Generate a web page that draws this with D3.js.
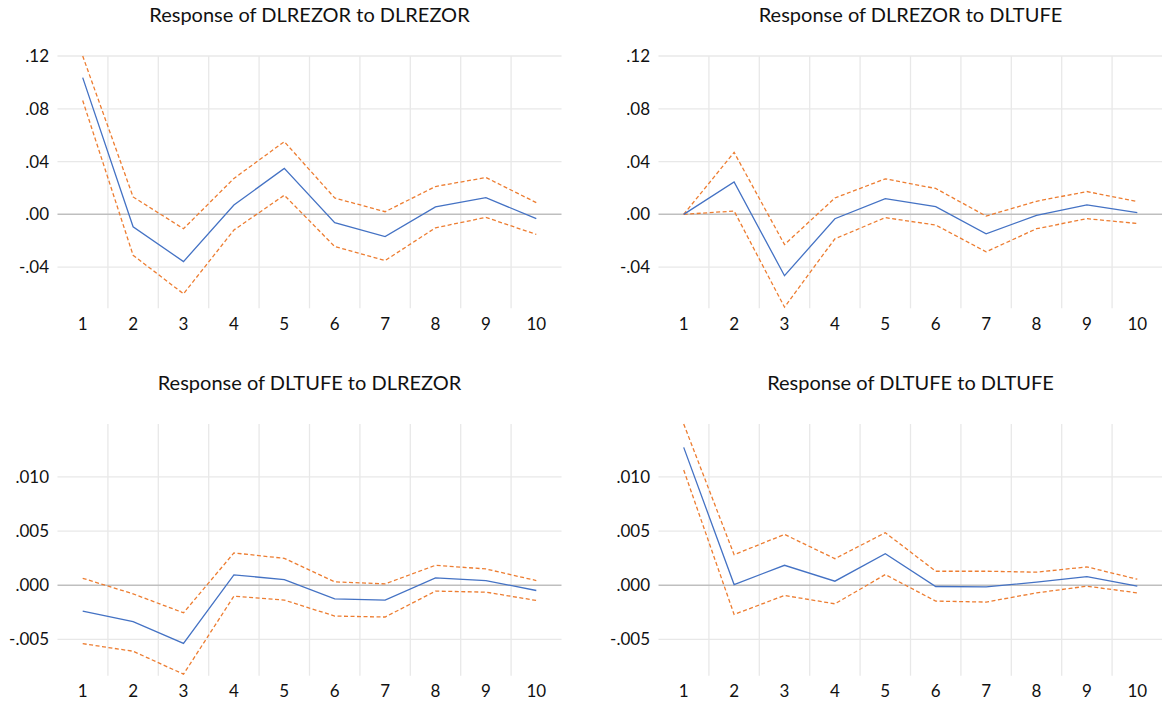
<!DOCTYPE html>
<html>
<head>
<meta charset="utf-8">
<script src="https://cdn.jsdelivr.net/npm/d3@7"></script>
<style>
  body { margin: 0; background: #ffffff; }
  svg { display: block; }
</style>
</head>
<body>
<svg id="chart" width="1162" height="711"></svg>
<script>
// ---------------- data ----------------
const periods = [1, 2, 3, 4, 5, 6, 7, 8, 9, 10];

const titles = [
  "Response of DLREZOR to DLREZOR",
  "Response of DLREZOR to DLTUFE",
  "Response of DLTUFE to DLREZOR",
  "Response of DLTUFE to DLTUFE"
];

// Response of DLREZOR to DLREZOR
const respRezorRezor  = [0.1036, -0.0094, -0.0358, 0.0071, 0.0348, -0.0063, -0.0168, 0.0056, 0.0127, -0.0033];
const upperRezorRezor = [0.1200, 0.0132, -0.0109, 0.0272, 0.0551, 0.0124, 0.0020, 0.0211, 0.0279, 0.0089];
const lowerRezorRezor = [0.0863, -0.0310, -0.0602, -0.0119, 0.0145, -0.0244, -0.0350, -0.0102, -0.0023, -0.0152];

// Response of DLREZOR to DLTUFE
const respRezorTufe  = [0.0000, 0.0246, -0.0465, -0.0033, 0.0119, 0.0058, -0.0147, -0.0008, 0.0071, 0.0013];
const upperRezorTufe = [0.0000, 0.0470, -0.0229, 0.0124, 0.0269, 0.0196, -0.0013, 0.0099, 0.0173, 0.0097];
const lowerRezorTufe = [0.0000, 0.0025, -0.0703, -0.0185, -0.0025, -0.0081, -0.0284, -0.0109, -0.0033, -0.0069];

// Response of DLTUFE to DLREZOR
const respTufeRezor  = [-0.00239, -0.00337, -0.00537, 0.00095, 0.00052, -0.00126, -0.00138, 0.00067, 0.00043, -0.00049];
const upperTufeRezor = [0.00064, -0.00080, -0.00255, 0.00298, 0.00248, 0.00031, 0.00012, 0.00184, 0.00150, 0.00043];
const lowerTufeRezor = [-0.00540, -0.00610, -0.00822, -0.00101, -0.00138, -0.00285, -0.00294, -0.00055, -0.00064, -0.00141];

// Response of DLTUFE to DLTUFE
const respTufeTufe  = [0.01273, 0.00006, 0.00184, 0.00037, 0.00291, -0.00012, -0.00015, 0.00028, 0.00080, -0.00009];
const upperTufeTufe = [0.01489, 0.00282, 0.00469, 0.00245, 0.00485, 0.00129, 0.00129, 0.00120, 0.00169, 0.00055];
const lowerTufeTufe = [0.01064, -0.00270, -0.00095, -0.00172, 0.00098, -0.00147, -0.00156, -0.00071, -0.00009, -0.00071];

// axis ticks
const topTicks = [-0.04, 0.00, 0.04, 0.08, 0.12];
const topTickLabels = ["-.04", ".00", ".04", ".08", ".12"];
const topDomain = [-0.0712, 0.12];

const bottomTicks = [-0.005, 0.000, 0.005, 0.010];
const bottomTickLabels = ["-.005", ".000", ".005", ".010"];
const bottomDomain = [-0.00836, 0.01489];

// ---------------- layout ----------------
const svg = d3.select("#chart");
const FONT = "Lato, 'Open Sans', sans-serif";
const colX = [57.5, 658.5];
const plotW = 504;
const rows = [
  { top: 56, bottom: 308.3, ticks: topTicks, labels: topTickLabels, domain: topDomain },
  { top: 424, bottom: 675.7, ticks: bottomTicks, labels: bottomTickLabels, domain: bottomDomain }
];

const panels = [
  { title: titles[0], resp: respRezorRezor, upper: upperRezorRezor, lower: lowerRezorRezor, col: 0, row: 0 },
  { title: titles[1], resp: respRezorTufe,  upper: upperRezorTufe,  lower: lowerRezorTufe,  col: 1, row: 0 },
  { title: titles[2], resp: respTufeRezor,  upper: upperTufeRezor,  lower: lowerTufeRezor,  col: 0, row: 1 },
  { title: titles[3], resp: respTufeTufe,   upper: upperTufeTufe,   lower: lowerTufeTufe,   col: 1, row: 1 }
];

panels.forEach(p => {
  const r = rows[p.row];
  const x0 = colX[p.col];
  const x = d3.scaleBand().domain(periods).range([x0, x0 + plotW]);
  const y = d3.scaleLinear().domain(r.domain).range([r.bottom, r.top]);
  const cx = d => x(d) + x.bandwidth() / 2;

  const g = svg.append("g");

  // vertical gridlines between categories
  g.selectAll(".vgrid")
    .data(periods.slice(1))
    .enter().append("line")
    .attr("x1", d => x(d)).attr("x2", d => x(d))
    .attr("y1", r.top).attr("y2", r.bottom)
    .attr("stroke", "#e8e8e8").attr("stroke-width", 1.3);

  // horizontal gridlines
  g.selectAll(".hgrid")
    .data(r.ticks.filter(t => t !== 0))
    .enter().append("line")
    .attr("x1", x0).attr("x2", x0 + plotW)
    .attr("y1", d => y(d)).attr("y2", d => y(d))
    .attr("stroke", "#e8e8e8").attr("stroke-width", 1.3);

  // zero line
  g.append("line")
    .attr("x1", x0).attr("x2", x0 + plotW)
    .attr("y1", y(0)).attr("y2", y(0))
    .attr("stroke", "#bfbfbf").attr("stroke-width", 1.5);

  // y axis
  const yAxis = d3.axisLeft(y)
    .tickValues(r.ticks)
    .tickSize(0)
    .tickPadding(8.5)
    .tickFormat((d, i) => r.labels[i]);
  const ya = g.append("g").attr("transform", `translate(${x0},0)`).call(yAxis);
  ya.select(".domain").remove();
  ya.selectAll("text").attr("font-family", FONT).attr("font-size", 17).attr("fill", "#111");

  // x axis
  const xAxis = d3.axisBottom(x).tickSize(0).tickPadding(9.5);
  const xa = g.append("g").attr("transform", `translate(0,${r.bottom})`).call(xAxis);
  xa.select(".domain").remove();
  xa.selectAll("text").attr("font-family", FONT).attr("font-size", 17).attr("fill", "#111");

  // lines
  const line = d3.line().x((d, i) => cx(periods[i])).y(d => y(d));
  [p.upper, p.lower].forEach(band => {
    g.append("path").datum(band)
      .attr("d", line)
      .attr("fill", "none")
      .attr("stroke", "#ED7D31")
      .attr("stroke-width", 1.3)
      .attr("stroke-dasharray", "4,2.5");
  });
  g.append("path").datum(p.resp)
    .attr("d", line)
    .attr("fill", "none")
    .attr("stroke", "#4472C4")
    .attr("stroke-width", 1.3);

  // title
  g.append("text")
    .attr("x", x0 + plotW / 2)
    .attr("y", r.top - 34.3)
    .attr("text-anchor", "middle")
    .attr("font-family", FONT)
    .attr("font-size", 20)
    .attr("fill", "#111")
    .text(p.title);
});
</script>
</body>
</html>
